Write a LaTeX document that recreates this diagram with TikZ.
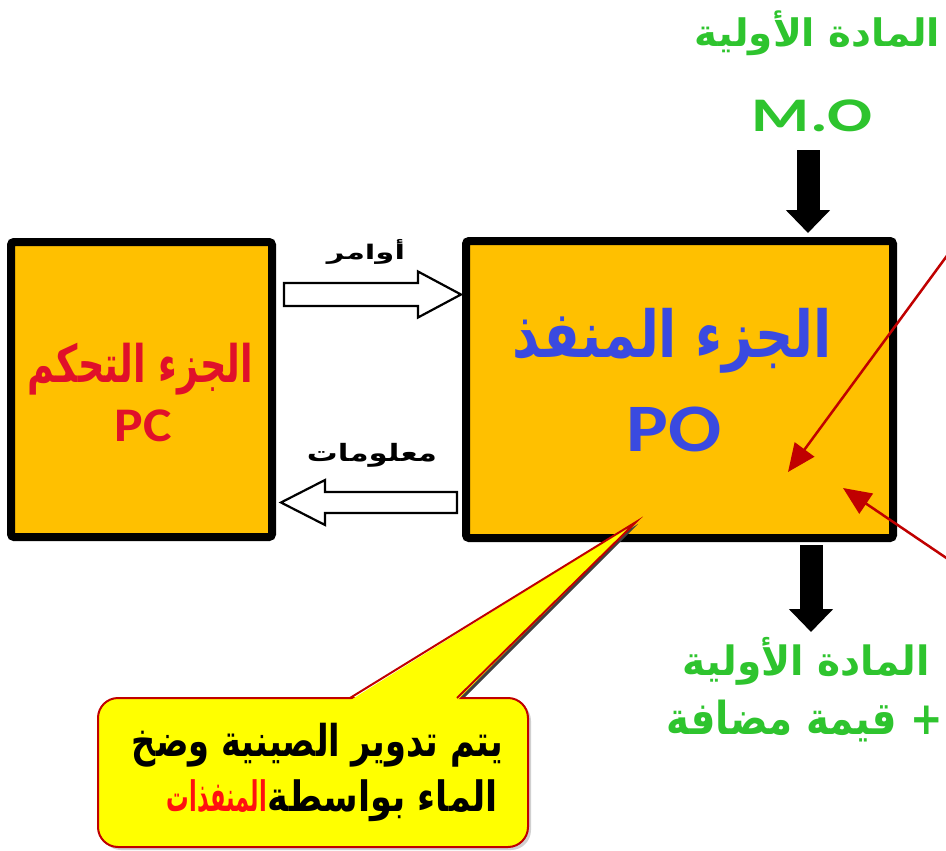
\documentclass[tikz,border=0pt]{standalone}
\usepackage{fontspec}
\usepackage{graphicx}
\usetikzlibrary{arrows.meta,calc}
\TeXXeTstate=1
\newfontfamily\arabicfont[Script=Arabic]{DejaVu Sans}
\newfontfamily\latinfont{Carlito}
\definecolor{boxfill}{HTML}{FFC000}
\definecolor{greentx}{HTML}{2EC42E}
\definecolor{bluetx}{HTML}{3A4AE0}
\definecolor{redtx}{HTML}{E0102A}
\definecolor{darkred}{HTML}{C00000}
\definecolor{callfill}{HTML}{FFFF00}
\definecolor{notered}{HTML}{FF1010}
\newcommand\artxt[1]{{\arabicfont\bfseries\beginR #1\endR}}
\newcommand\fitto[3]{\resizebox*{#1pt}{#2pt}{#3}}
% name, x, y, width, height, colour, content
\newcommand\embtext[7]{%
  \node[txt,text=#6] (#1) at (#2,#3) {\fitto{#4}{#5}{#7}};}
\begin{document}
\begin{tikzpicture}[x=1pt,y=-1pt,
  txt/.style={inner sep=0pt,outer sep=0pt},
  blockbox/.style={draw=black,line width=8pt,fill=boxfill,rounded corners=3pt,inner sep=0pt,outer sep=0pt},
  hollow/.style={draw=black,line width=2.2pt,fill=white,line join=miter},
  blackarrow/.style={draw=black,line width=23pt,-{Triangle[length=23pt,width=43pt]}},
  redarrow/.style={draw=darkred,line width=2.5pt,-{Triangle[length=28pt,width=24pt]}},
  callbox/.style={draw=darkred,line width=2pt,fill=callfill,rounded corners=20pt,inner sep=0pt,outer sep=0pt,minimum width=430pt,minimum height=149pt}]
\useasboundingbox (0,0) rectangle (946,851);
\fill[white] (0,0) rectangle (946,851);

% main blocks
\node[blockbox,minimum width=261pt,minimum height=295pt] (pc) at (141.5,389.5) {};
\node[blockbox,minimum width=427pt,minimum height=297pt] (po) at (679.5,389.5) {};

% hollow arrow: commands (PC -> PO)
\coordinate (c1s) at ($(pc.east |- 0,294.5)+(12,0)$);
\coordinate (c1e) at ($(po.west |- 0,294.5)+(-5,0)$);
\draw[hollow] let \p1=(c1s), \p2=(c1e) in
  (\x1,\y1+11.5pt) -- (\x2-43pt,\y1+11.5pt) -- (\x2-43pt,\y1+23pt) -- (\x2,\y2)
  -- (\x2-43pt,\y1-23pt) -- (\x2-43pt,\y1-11.5pt) -- (\x1,\y1-11.5pt) -- cycle;

% hollow arrow: information (PO -> PC)
\coordinate (c2s) at ($(po.west |- 0,502.5)+(-9,0)$);
\coordinate (c2e) at ($(pc.east |- 0,502.5)+(9,0)$);
\draw[hollow] let \p1=(c2s), \p2=(c2e) in
  (\x1,\y1+10.5pt) -- (\x2+44pt,\y1+10.5pt) -- (\x2+44pt,\y1+22.5pt) -- (\x2,\y2)
  -- (\x2+44pt,\y1-22.5pt) -- (\x2+44pt,\y1-10.5pt) -- (\x1,\y1-10.5pt) -- cycle;

% arrow labels
\embtext{cmd}{366}{252}{78}{25}{black}{\artxt{أوامر}}
\embtext{info}{372}{455}{130}{24}{black}{\artxt{معلومات}}

% block texts
\embtext{pcar}{140.5}{369}{225}{52}{redtx}{\artxt{الجزء التحكم}}
\embtext{pclb}{143.5}{426}{57}{32}{redtx}{\latinfont\bfseries PC}
\embtext{poar}{672.5}{340.5}{319}{65}{bluetx}{\artxt{الجزء المنفذ}}
\embtext{polb}{674.5}{429.5}{95}{45}{bluetx}{\latinfont\bfseries PO}

% raw material in
\embtext{moar}{817.5}{33.5}{245}{45}{greentx}{\artxt{المادة الأولية}}
\embtext{mo}{812}{116}{120}{32}{greentx}{\latinfont\bfseries M.O}
\coordinate (moarr) at (808,150);
\draw[blackarrow] (moarr) -- ($(po.north -| moarr)+(0,-8)$);

% product out
\coordinate (outarr) at (811,632);
\draw[blackarrow] ($(po.south -| outarr)+(0,7)$) -- (outarr);
\embtext{outar}{806.5}{661}{247}{48}{greentx}{\artxt{المادة الأولية}}
\embtext{outval}{805}{721}{276}{42}{greentx}{\artxt{+ قيمة مضافة}}

% red pointers
\coordinate (r1s) at (960,238);
\coordinate (r1e) at (788,472);
\draw[redarrow] (r1s) -- (r1e);
\coordinate (r2s) at (970,574);
\coordinate (r2e) at (843,488);
\draw[redarrow] (r2s) -- (r2e);

% callout
\coordinate (tipc) at (636,522);
\node[callbox,draw=none,fill=black!30,opacity=.6] (note-sh) at (316,775.5) {};
\fill[black!75] (354,701) -- ($(tipc)+(2,2)$) -- (461,701) -- cycle;
\node[callbox] (note) at (313,772.5) {};
\fill[callfill] ($(note.north west)+(252,2.5)$) -- (tipc) -- ($(note.north west)+(359,2.5)$) -- cycle;
\draw[darkred,line width=2pt,line join=miter] ($(note.north west)+(252,0)$) -- (tipc) -- ($(note.north west)+(359,0)$);
\embtext{line1}{317.5}{745}{371}{44}{black}{\artxt{يتم تدوير الصينية وضخ}}
\embtext{line2a}{383}{801}{230}{42}{black}{\artxt{الماء بواسطة}}
\embtext{line2b}{217}{796.5}{100}{33}{notered}{\artxt{المنفذات}}
\end{tikzpicture}
\end{document}
